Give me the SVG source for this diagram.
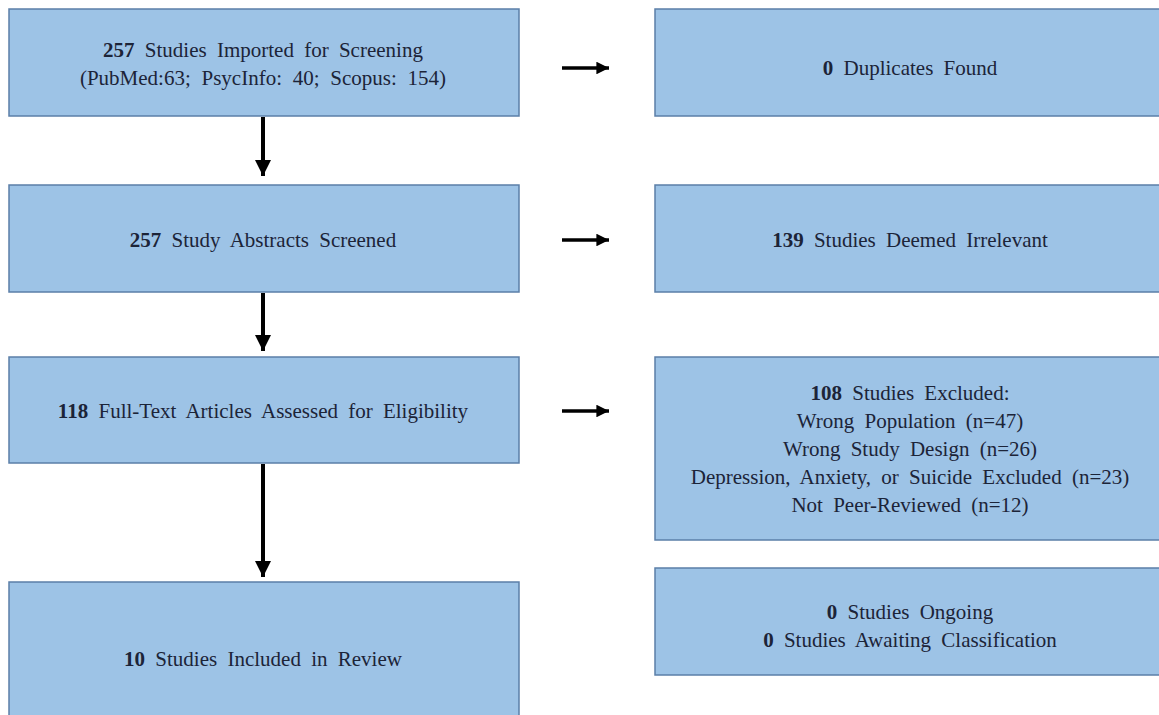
<svg xmlns="http://www.w3.org/2000/svg" width="1159" height="715" viewBox="0 0 1159 715">
<defs>
<marker id="headV" viewBox="0 0 10 10" refX="10" refY="5" markerWidth="4" markerHeight="4" orient="auto" markerUnits="strokeWidth">
<path d="M0,0 L10,5 L0,10 z" fill="#000"/>
</marker>
<marker id="headH" viewBox="0 0 10 10" refX="10" refY="5" markerWidth="3.6" markerHeight="3.6" orient="auto" markerUnits="strokeWidth">
<path d="M0,0 L10,5 L0,10 z" fill="#000"/>
</marker>
</defs>
<style>
.box{fill:#9dc3e6;stroke:#5b7fa8;stroke-width:1.5}
.t{font-family:"Liberation Serif","Times New Roman",serif;font-size:21px;fill:#1c2438;text-anchor:middle;word-spacing:5px}
.b{font-weight:bold}
.v{stroke:#000;stroke-width:4;fill:none;marker-end:url(#headV)}
.h{stroke:#000;stroke-width:3.5;fill:none;marker-end:url(#headH)}
</style>
<rect width="1159" height="715" fill="#fff"/>
<g id="n1">
<rect class="box" x="9" y="9" width="510" height="107"/>
<text class="t" x="263" y="57"><tspan class="b">257</tspan> Studies Imported for Screening</text>
<text class="t" x="263" y="85" style="word-spacing:5.5px">(PubMed:63; PsycInfo: 40; Scopus: 154)</text>
</g>
<g id="n2">
<rect class="box" x="655" y="9" width="510" height="107"/>
<text class="t" x="910" y="75"><tspan class="b">0</tspan> Duplicates Found</text>
</g>
<g id="n3">
<rect class="box" x="9" y="185" width="510" height="107"/>
<text class="t" x="263" y="247"><tspan class="b">257</tspan> Study Abstracts Screened</text>
</g>
<g id="n4">
<rect class="box" x="655" y="185" width="510" height="107"/>
<text class="t" x="910" y="247"><tspan class="b">139</tspan> Studies Deemed Irrelevant</text>
</g>
<g id="n5">
<rect class="box" x="9" y="357" width="510" height="106"/>
<text class="t" x="263" y="418"><tspan class="b">118</tspan> Full-Text Articles Assessed for Eligibility</text>
</g>
<g id="n6">
<rect class="box" x="655" y="357" width="510" height="183"/>
<text class="t" x="910" y="400"><tspan class="b">108</tspan> Studies Excluded:</text>
<text class="t" x="910" y="428">Wrong Population (n=47)</text>
<text class="t" x="910" y="456">Wrong Study Design (n=26)</text>
<text class="t" x="910" y="484">Depression, Anxiety, or Suicide Excluded (n=23)</text>
<text class="t" x="910" y="512">Not Peer-Reviewed (n=12)</text>
</g>
<g id="n7">
<rect class="box" x="9" y="582" width="510" height="140"/>
<text class="t" x="263" y="666"><tspan class="b">10</tspan> Studies Included in Review</text>
</g>
<g id="n8">
<rect class="box" x="655" y="568" width="510" height="107"/>
<text class="t" x="910" y="619"><tspan class="b">0</tspan> Studies Ongoing</text>
<text class="t" x="910" y="647"><tspan class="b">0</tspan> Studies Awaiting Classification</text>
</g>
<g id="connectors">
<line class="v" x1="263" y1="117" x2="263" y2="176"/>
<line class="v" x1="263" y1="293" x2="263" y2="351"/>
<line class="v" x1="263" y1="464" x2="263" y2="577"/>
<line class="h" x1="562" y1="68" x2="609" y2="68"/>
<line class="h" x1="562" y1="240" x2="609" y2="240"/>
<line class="h" x1="562" y1="411" x2="609" y2="411"/>
</g>
</svg>
